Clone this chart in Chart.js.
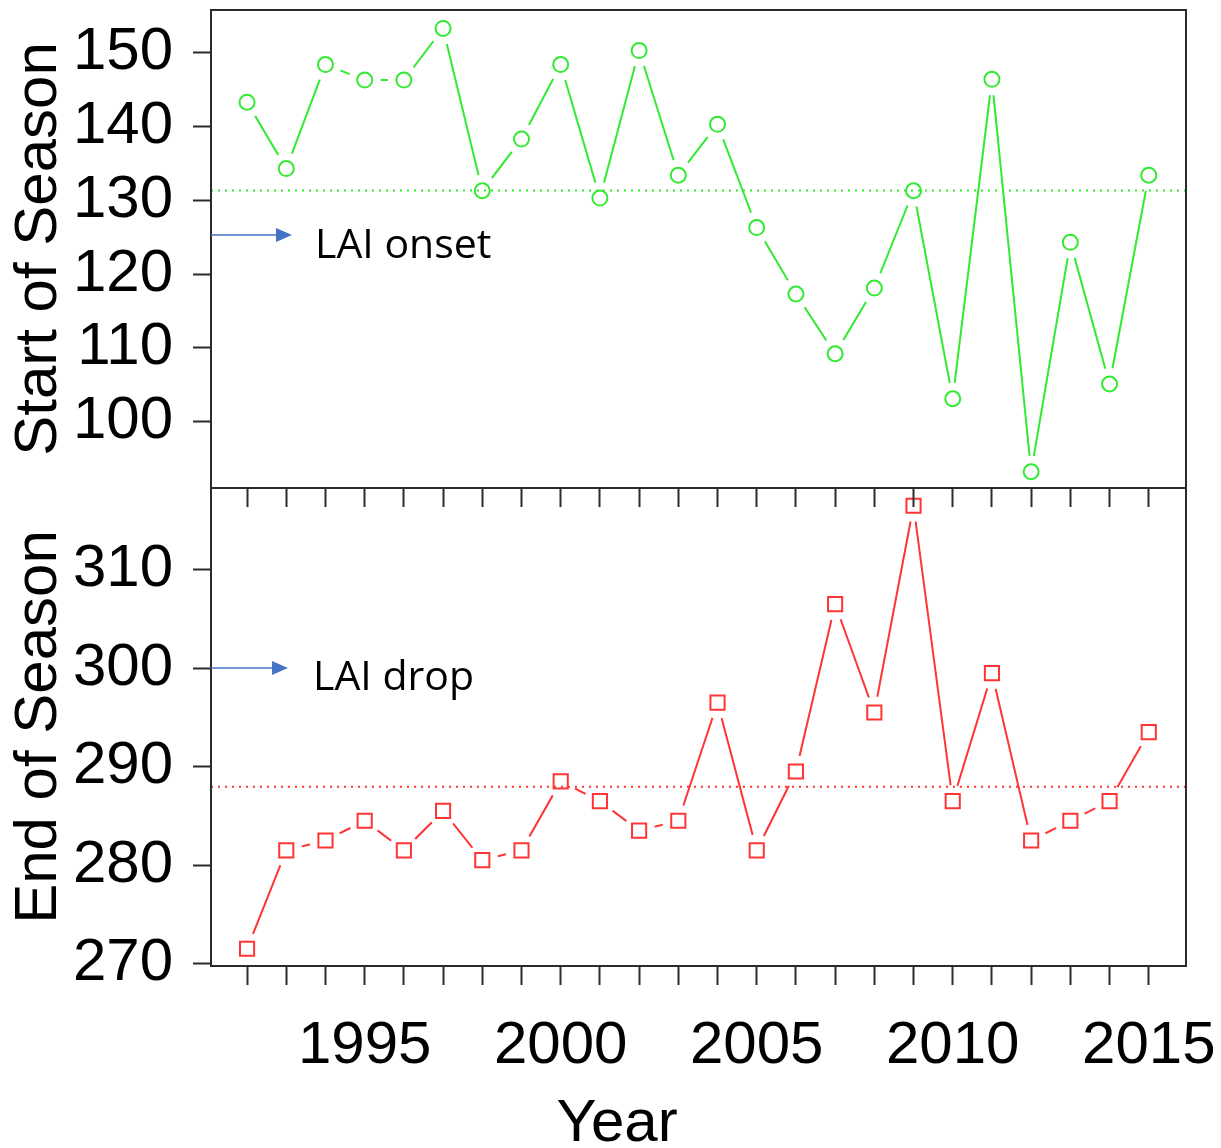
<!DOCTYPE html>
<html>
<head>
<meta charset="utf-8">
<script src="https://cdn.jsdelivr.net/npm/chart.js@4.4.1/dist/chart.umd.min.js"></script>
<style>
  html, body { margin: 0; padding: 0; background: #fff; }
  #wrap { position: relative; width: 1221px; height: 1148px; overflow: hidden; background: #fff; }
  canvas { position: absolute; left: 0; }
  #sosCanvas { top: 0; z-index: 2; }
  #eosCanvas { top: 470px; z-index: 1; }
</style>
</head>
<body>
<div id="wrap">
  <canvas id="eosCanvas" width="1221" height="678"></canvas>
  <canvas id="sosCanvas" width="1221" height="520"></canvas>
</div>
<script>
// Years of the record
const years = [1992, 1993, 1994, 1995, 1996, 1997, 1998, 1999, 2000, 2001, 2002, 2003,
               2004, 2005, 2006, 2007, 2008, 2009, 2010, 2011, 2012, 2013, 2014, 2015];

// Start of season (day of year)
const startOfSeason = [143.3, 134.3, 148.4, 146.3, 146.3, 153.3, 131.3, 138.3, 148.4, 130.3, 150.3, 133.4,
                       140.3, 126.3, 117.3, 109.2, 118.1, 131.3, 103.1, 146.4, 93.2, 124.3, 105.1, 133.4];

// End of season (day of year)
const endOfSeason = [271.5, 281.5, 282.5, 284.5, 281.5, 285.5, 280.5, 281.5, 288.5, 286.5, 283.5, 284.5,
                     296.5, 281.5, 289.5, 306.5, 295.5, 316.5, 286.5, 299.5, 282.5, 284.5, 286.5, 293.5];

// Axis tick values
const startTicks = [100, 110, 120, 130, 140, 150];
const endTicks = [270, 280, 290, 300, 310];
const yearLabels = [1995, 2000, 2005, 2010, 2015];

const X_MIN = 1991.08, X_MAX = 2015.95;
const AXIS = '#2b2b2b';
const GREEN = '#33ea33';
const RED = '#ff3535';
const ARROW = '#4472C4';
const NUM_FONT = '"Liberation Sans", Arial, Helvetica, sans-serif';
const NOTE_FONT = '"Open Sans", "Noto Sans", sans-serif';

Chart.defaults.font.family = NUM_FONT;
Chart.defaults.color = '#000';

function points(vals) { return years.map((yr, i) => ({ x: yr, y: vals[i] })); }
function meanOf(vals) { return vals.reduce((a, b) => a + b, 0) / vals.length; }

// line with gaps around markers, dotted mean line, hollow markers
function seriesDatasets(vals, color, style, radius) {
  const m = meanOf(vals);
  return [
    { data: points(vals), borderColor: color, borderWidth: 2, pointRadius: 0, tension: 0, fill: false, order: 3 },
    { data: points(vals), showLine: false, pointRadius: 16, pointBackgroundColor: '#fff',
      pointBorderColor: 'rgba(0,0,0,0)', pointBorderWidth: 0, order: 2 },
    { data: [{ x: X_MIN, y: m }, { x: X_MAX, y: m }], borderColor: color, borderWidth: 2,
      borderDash: [2, 5], pointRadius: 0, order: 1 },
    { data: points(vals), showLine: false, pointStyle: style, pointRadius: radius,
      pointBorderColor: color, pointBackgroundColor: 'rgba(255,255,255,0)', pointBorderWidth: 2, order: 0 }
  ];
}

// keep the plot box fixed: no extra room for overhanging tick labels
function noOverhang(s) {
  s.paddingTop = 0; s.paddingBottom = 0; s.paddingLeft = 0; s.paddingRight = 0;
}

const framePlugin = {
  id: 'frame',
  afterDatasetsDraw(chart) {
    const { ctx, chartArea: a } = chart;
    ctx.save();
    ctx.strokeStyle = AXIS;
    ctx.lineWidth = 2;
    ctx.strokeRect(a.left, a.top, a.right - a.left, a.bottom - a.top);
    ctx.restore();
  }
};

function notePlugin(id, arrowY, tipX, text, textX, baseline) {
  return {
    id: id,
    afterDraw(chart) {
      const ctx = chart.ctx;
      const x0 = chart.chartArea.left;
      ctx.save();
      ctx.strokeStyle = ARROW;
      ctx.fillStyle = ARROW;
      ctx.lineWidth = 1.5;
      ctx.beginPath();
      ctx.moveTo(x0, arrowY);
      ctx.lineTo(tipX - 14, arrowY);
      ctx.stroke();
      ctx.beginPath();
      ctx.moveTo(tipX, arrowY);
      ctx.lineTo(tipX - 16, arrowY - 7);
      ctx.lineTo(tipX - 16, arrowY + 7);
      ctx.closePath();
      ctx.fill();
      ctx.fillStyle = '#000';
      ctx.font = '41px ' + NOTE_FONT;
      ctx.textAlign = 'left';
      ctx.textBaseline = 'alphabetic';
      ctx.fillText(text, textX, baseline);
      ctx.restore();
    }
  };
}

const yearTitlePlugin = {
  id: 'yearTitle',
  afterDraw(chart) {
    const ctx = chart.ctx;
    ctx.save();
    ctx.fillStyle = '#000';
    ctx.font = '60px ' + NUM_FONT;
    ctx.textAlign = 'center';
    ctx.textBaseline = 'alphabetic';
    ctx.fillText('Year', 617, 671);
    ctx.restore();
  }
};

function panel(canvasId, opts) {
  return new Chart(document.getElementById(canvasId), {
    type: 'line',
    data: { datasets: seriesDatasets(opts.values, opts.color, opts.style, opts.radius) },
    options: {
      responsive: false,
      animation: false,
      devicePixelRatio: 1,
      events: [],
      layout: { autoPadding: false, padding: { top: opts.padTop, right: 35, left: 0, bottom: 0 } },
      plugins: { legend: { display: false }, tooltip: { enabled: false } },
      scales: {
        x: {
          type: 'linear', position: 'bottom', min: X_MIN, max: X_MAX,
          afterBuildTicks: s => { s.ticks = years.map(v => ({ value: v })); },
          afterFit: s => { s.height = opts.xHeight; noOverhang(s); },
          border: { display: false },
          grid: { drawOnChartArea: false, drawTicks: true, tickLength: 19, tickWidth: 2, tickColor: AXIS },
          ticks: {
            display: opts.showYears, autoSkip: false, maxRotation: 0, minRotation: 0,
            padding: 25, color: '#000', font: { size: 60 },
            callback: v => (yearLabels.includes(v) ? String(v) : '')
          }
        },
        y: {
          type: 'linear', min: opts.yMin, max: opts.yMax,
          afterBuildTicks: s => { s.ticks = opts.yTicks.map(v => ({ value: v })); },
          afterFit: s => { s.width = 211; noOverhang(s); },
          border: { display: false },
          grid: { drawOnChartArea: false, drawTicks: true, tickLength: 18, tickWidth: 2, tickColor: AXIS },
          ticks: { padding: 20, color: '#000', font: { size: 60 } },
          title: { display: true, text: opts.title, color: '#000', font: { size: 60 }, padding: { top: 3, bottom: 0 } }
        }
      }
    },
    plugins: opts.plugins
  });
}

panel('sosCanvas', {
  values: startOfSeason, color: GREEN, style: 'circle', radius: 7.5,
  yMin: 91.0, yMax: 155.8, yTicks: startTicks, title: 'Start of Season',
  padTop: 10, xHeight: 32, showYears: false,
  plugins: [framePlugin, notePlugin('onsetNote', 235, 292, 'LAI onset', 315, 258)]
});

panel('eosCanvas', {
  values: endOfSeason, color: RED, style: 'rect', radius: 10,
  yMin: 269.75, yMax: 318.3, yTicks: endTicks, title: 'End of Season',
  padTop: 18, xHeight: 182, showYears: true,
  plugins: [framePlugin, notePlugin('dropNote', 198, 288, 'LAI drop', 313, 220), yearTitlePlugin]
});
</script>
</body>
</html>
